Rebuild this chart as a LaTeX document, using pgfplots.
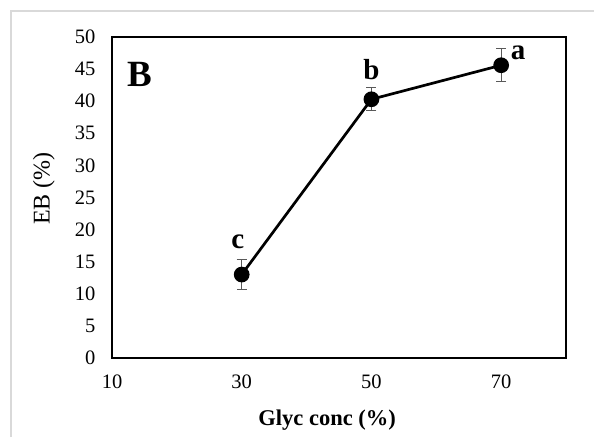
\documentclass[border=0pt]{standalone}
\usepackage{fontspec}
\setmainfont{Liberation Serif}
\usepackage{pgfplots}
\pgfplotsset{compat=1.18}
\begin{document}
\begin{tikzpicture}[x=1pt,y=1pt]
\path[use as bounding box] (0,0) rectangle (594,437);
\draw[color={rgb,255:red,217;green,217;blue,217}, line width=1.5pt] (11,0) -- (11,426) -- (594,426);
\begin{axis}[
  at={(112pt,79pt)}, anchor=south west,
  scale only axis, width=454pt, height=321pt,
  xmin=10, xmax=80, ymin=0, ymax=50,
  xtick={10,30,50,70}, ytick={0,5,...,50},
  major tick length=0pt,
  axis line style={line width=2pt},
  tick label style={font=\fontsize{20.5}{24}\selectfont},
  /pgf/number format/assume math mode=true,
  xticklabel style={yshift=-13pt},
  yticklabel style={xshift=-13pt},
  xlabel={\textbf{Glyc conc (\%)}},
  ylabel={EB (\%)},
  xlabel style={at={(axis description cs:0.474,-0.193)}, anchor=center, font=\fontsize{22.5}{26}\selectfont},
  ylabel style={at={(axis description cs:-0.150,0.528)}, anchor=center, font=\fontsize{24}{28}\selectfont},
  clip=false,
]
\addplot[black, line width=2.7pt, mark=*, mark size=6.5pt,
  error bars/.cd, y dir=both, y explicit,
  error bar style={black!65, line width=0.9pt},
  error mark options={black!65, line width=0.9pt, mark size=5pt, rotate=90}]
  coordinates {(30,13.0) +- (0,2.4) (50,40.3) +- (0,1.8) (70,45.6) +- (0,2.6)};
\node[font=\bfseries\fontsize{29}{32}\selectfont] at (axis cs:29.4,18.1) {c};
\node[font=\bfseries\fontsize{29}{32}\selectfont] at (axis cs:50,44.9) {b};
\node[font=\bfseries\fontsize{29}{32}\selectfont] at (axis cs:72.6,47.6) {a};
\node[font=\bfseries\fontsize{37}{40}\selectfont] at (axis cs:14.3,44.1) {B};
\end{axis}
\end{tikzpicture}
\end{document}
